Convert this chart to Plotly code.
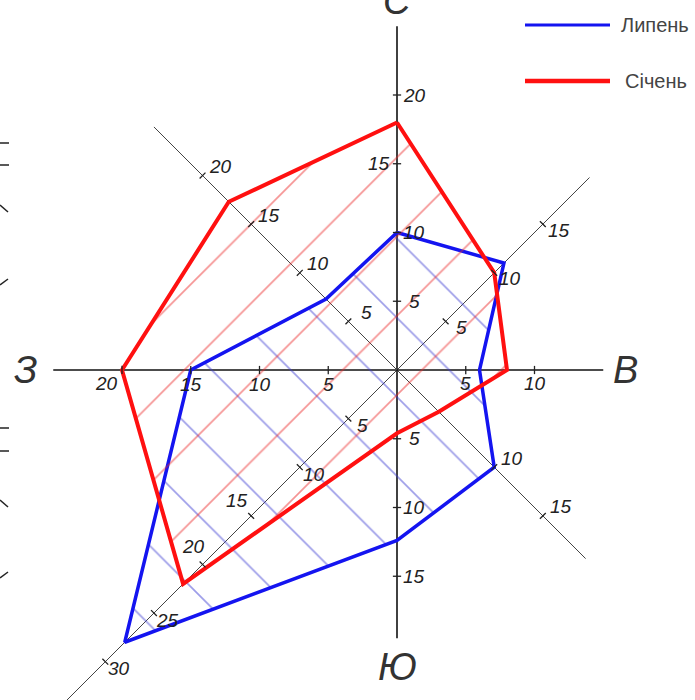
import numpy as np
import plotly.graph_objects as go

# ---------------- data ----------------
directions = ["Пн", "ПнСх", "Сх", "ПдСх", "Пд", "ПдЗх", "Зх", "ПнЗх"]
angles_deg = [90, 45, 0, -45, -90, -135, 180, 135]
july = [10, 11, 6, 10, 12.4, 28, 15, 7.3]          # Липень
january = [18, 10, 8, 4.3, 4.6, 22, 20, 17.3]      # Січень
series_names = ["Липень", "Січень"]
tick_vals = {
    "Пн": [5, 10, 15, 20],
    "ПнСх": [5, 10, 15],
    "Сх": [5, 10],
    "ПдСх": [10, 15],
    "Пд": [5, 10, 15],
    "ПдЗх": [5, 10, 15, 20, 25, 30],
    "Зх": [5, 10, 15, 20],
    "ПнЗх": [5, 10, 15, 20],
}
cardinal_labels = {"Пн": "С", "Сх": "В", "Пд": "Ю", "Зх": "З"}

# ---------------- layout constants ----------------
W, H = 695, 700
CX, CY = 397, 370          # centre in pixels
S = 13.75                  # pixels per unit
axis_len = {"Пн": 25, "ПнСх": 19.8, "Сх": 15, "ПдСх": 19.4, "Пд": 19.5,
            "ПдЗх": 36, "Зх": 25, "ПнЗх": 25}
cardinal_dist = {"Пн": 26.5, "Сх": 16.6, "Пд": 21.6, "Зх": 27.0}
cardinal_yshift = {"Пн": 5, "Сх": 0, "Пд": 0, "Зх": 0}
# label offsets in screen px (dx right, dy down)
label_off = {"Пн": (17, 0), "ПнСх": (16, 6), "Сх": (0, 13), "ПдСх": (18, -9),
             "Пд": (17, 0), "ПдЗх": (14, 7), "Зх": (0, 14), "ПнЗх": (18, -9)}
label_override = {("Пн", 15): (-18, 0), ("ПдЗх", 15): (-14, -15),
                  ("ПдЗх", 20): (-9, -18), ("Зх", 20): (-16, 13)}

unit = {d: (np.cos(np.radians(a)), np.sin(np.radians(a))) for d, a in zip(directions, angles_deg)}

fig = go.Figure()

# axes
for d in directions:
    ux, uy = unit[d]
    L = axis_len[d]
    diag = d in ("ПнСх", "ПдСх", "ПдЗх", "ПнЗх")
    fig.add_trace(go.Scatter(x=[0, L * ux], y=[0, L * uy], mode="lines",
                             line=dict(color="#444" if diag else "#111", width=1 if diag else 1.6),
                             hoverinfo="skip", showlegend=False))

# polygons
def poly(vals):
    xs = [v * unit[d][0] for v, d in zip(vals, directions)]
    ys = [v * unit[d][1] for v, d in zip(vals, directions)]
    return xs + xs[:1], ys + ys[:1]

xb, yb = poly(july)
fig.add_trace(go.Scatter(x=xb, y=yb, mode="lines", fill="toself", name=series_names[0],
                         fillcolor="rgba(0,0,0,0)",
                         fillpattern=dict(shape="\\", size=56, solidity=0.03,
                                          fgcolor="rgb(60,60,210)", bgcolor="rgba(0,0,0,0)"),
                         line=dict(color="#1414f0", width=3.5), showlegend=False))
xr, yr = poly(january)
fig.add_trace(go.Scatter(x=xr, y=yr, mode="lines", fill="toself", name=series_names[1],
                         fillcolor="rgba(0,0,0,0)",
                         fillpattern=dict(shape="/", size=56, solidity=0.03,
                                          fgcolor="rgb(235,40,40)", bgcolor="rgba(0,0,0,0)"),
                         line=dict(color="#ff1010", width=4), showlegend=False))

# tick marks
tx, ty = [], []
for d in directions:
    ux, uy = unit[d]
    nx, ny = -uy, ux
    for v in tick_vals[d]:
        px, py = v * ux, v * uy
        tx += [px - 0.3 * nx, px + 0.3 * nx, None]
        ty += [py - 0.3 * ny, py + 0.3 * ny, None]
fig.add_trace(go.Scatter(x=tx, y=ty, mode="lines", line=dict(color="#222", width=1.3),
                         hoverinfo="skip", showlegend=False))

annotations = []
tick_font = dict(family="Liberation Sans Narrow, Liberation Sans, sans-serif", size=19,
                 color="#222", style="italic")
for d in directions:
    ux, uy = unit[d]
    for v in tick_vals[d]:
        dx, dy = label_override.get((d, v), label_off[d])
        annotations.append(dict(x=v * ux, y=v * uy, text=str(v), showarrow=False,
                                xshift=dx, yshift=-dy, font=tick_font,
                                xanchor="center", yanchor="middle"))

for d, lab in cardinal_labels.items():
    ux, uy = unit[d]
    r = cardinal_dist[d]
    annotations.append(dict(x=r * ux, y=r * uy, text=lab, showarrow=False,
                            yshift=cardinal_yshift[d],
                            font=dict(family="DejaVu Sans ExtraLight, Liberation Sans, sans-serif",
                                      size=38, color="#333", style="italic"),
                            xanchor="center", yanchor="middle"))

# manual legend
def px2paper(x, y):
    return x / W, 1 - y / H

shapes = []
for (y, col, w, name, tx0) in [(25, "#1414f0", 3, series_names[0], 619),
                               (81, "#ff1010", 4.5, series_names[1], 623)]:
    x0, yy = px2paper(525, y)
    x1, _ = px2paper(610, y)
    shapes.append(dict(type="line", xref="paper", yref="paper", x0=x0, x1=x1, y0=yy, y1=yy,
                       line=dict(color=col, width=w)))
    ax, _ = px2paper(tx0, y)
    annotations.append(dict(xref="paper", yref="paper", x=ax, y=yy, text=name, showarrow=False,
                            xanchor="left", yanchor="middle",
                            font=dict(family="Liberation Sans Narrow, Liberation Sans, sans-serif",
                                      size=20, color="#444")))

# stray marks at left edge (cut-off drawing)
for (x0, y0, x1, y1) in [(0, 143, 9, 143), (0, 165, 9, 165), (0, 205, 8, 212), (0, 285, 8, 279),
                         (0, 428, 9, 428), (0, 451, 9, 451), (0, 500, 8, 507), (0, 578, 8, 572)]:
    a0, b0 = px2paper(x0, y0)
    a1, b1 = px2paper(x1, y1)
    shapes.append(dict(type="line", xref="paper", yref="paper", x0=a0, y0=b0, x1=a1, y1=b1,
                       line=dict(color="#222", width=1.5)))

fig.update_layout(
    width=W, height=H, margin=dict(l=0, r=0, t=0, b=0),
    paper_bgcolor="white", plot_bgcolor="white",
    xaxis=dict(range=[-CX / S, (W - CX) / S], visible=False, fixedrange=True),
    yaxis=dict(range=[-(H - CY) / S, CY / S], visible=False, fixedrange=True),
    annotations=annotations, shapes=shapes, showlegend=False,
)
fig.write_html("out.html", config={"displayModeBar": False},
               post_script="document.body.style.margin='0px';")
